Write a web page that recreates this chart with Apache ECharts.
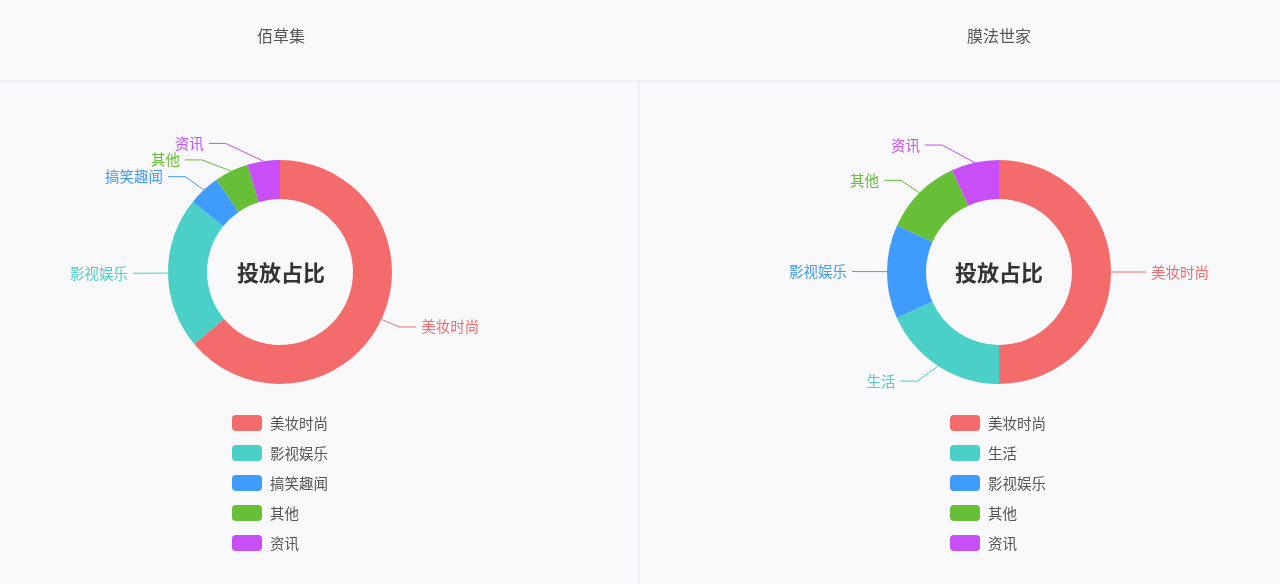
<!DOCTYPE html>
<html>
<head>
<meta charset="utf-8">
<script src="https://cdn.jsdelivr.net/npm/echarts@6/dist/echarts.min.js"></script>
<style>
html,body{margin:0;padding:0;background:#f9f8fb;}
#main{width:1280px;height:584px;}
</style>
</head>
<body>
<div id="main"></div>
<script>
const leftTitle = '佰草集';
const rightTitle = '膜法世家';
const centerText = '投放占比';
const leftCategories = ['美妆时尚', '影视娱乐', '搞笑趣闻', '其他', '资讯'];
const leftValues = [63.9, 21.9, 4.6, 4.9, 4.7];
const rightCategories = ['美妆时尚', '生活', '影视娱乐', '其他', '资讯'];
const rightValues = [50, 18.3, 13.5, 11.3, 6.9];
const leftColors = ['#f36b6b', '#4ad0c6', '#3f9cfd', '#66bf36', '#c84ff5'];
const rightColors = ['#f36b6b', '#4ad0c6', '#3f9cfd', '#66bf36', '#c84ff5'];

const fontFamily = '"Noto Sans CJK SC", "Noto Sans", sans-serif';
const chart = echarts.init(document.getElementById('main'));

const R_IN = 73, R_OUT = 112, LEN = 18, LEN2 = 17, CY = 272;

function makeData(cats, vals, colors) {
  return cats.map((c, i) => ({ name: c, value: vals[i], itemStyle: { color: colors[i] } }));
}

// place label ends on a circle (classic ECharts 4 style) using the library's own label y
function circleLabelLayout(cx, cy) {
  const R = R_OUT + LEN + LEN2;
  return function (params) {
    const pts = params.labelLinePoints;
    if (!pts || pts.length < 3) return {};
    const rect = params.labelRect;
    const yc = rect.y + rect.height / 2;
    const dy = Math.abs(yc - cy);
    const dir = pts[2][0] < cx ? -1 : 1;
    const dx = dy < R_OUT + LEN ? Math.sqrt(R * R - dy * dy) : Math.abs(pts[2][0] - cx);
    const xEnd = cx + dir * dx;
    return {
      x: xEnd + dir * 5,
      y: yc,
      align: dir < 0 ? 'right' : 'left',
      verticalAlign: 'middle',
      labelLinePoints: [pts[0], [xEnd - dir * LEN2, yc], [xEnd, yc]]
    };
  };
}

function pieSeries(cats, vals, colors, cx) {
  return {
    type: 'pie',
    center: [cx, CY],
    radius: [R_IN, R_OUT],
    startAngle: 90,
    clockwise: true,
    avoidLabelOverlap: true,
    label: { show: true, position: 'outside', fontSize: 14.5, color: 'inherit', fontFamily: fontFamily },
    labelLine: { show: true, length: LEN, length2: LEN2, lineStyle: { width: 1 } },
    labelLayout: circleLabelLayout(cx, CY),
    emphasis: { disabled: true },
    data: makeData(cats, vals, colors)
  };
}

function legendFor(cats, colors, left) {
  return {
    data: cats.map((c, i) => ({ name: c, itemStyle: { color: colors[i] } })),
    orient: 'vertical',
    left: left,
    top: 410,
    itemWidth: 30,
    itemHeight: 16,
    itemGap: 14,
    icon: 'roundRect',
    textStyle: { fontSize: 14.5, color: '#555', fontFamily: fontFamily, padding: [0, 0, 0, 3] }
  };
}

const option = {
  backgroundColor: '#f9f8fb',
  animation: false,
  title: [
    { text: leftTitle, left: 276, top: 31, textAlign: 'center', textVerticalAlign: 'middle',
      textStyle: { fontSize: 16, fontWeight: 'normal', color: '#555', fontFamily: fontFamily } },
    { text: rightTitle, left: 994, top: 31, textAlign: 'center', textVerticalAlign: 'middle',
      textStyle: { fontSize: 16, fontWeight: 'normal', color: '#555', fontFamily: fontFamily } },
    { text: centerText, left: 276, top: 268, textAlign: 'center', textVerticalAlign: 'middle',
      textStyle: { fontSize: 22, fontWeight: 'bold', color: '#333', fontFamily: fontFamily } },
    { text: centerText, left: 994, top: 268, textAlign: 'center', textVerticalAlign: 'middle',
      textStyle: { fontSize: 22, fontWeight: 'bold', color: '#333', fontFamily: fontFamily } }
  ],
  graphic: [
    { type: 'rect', shape: { x: 0, y: 80, width: 1280, height: 1.5 }, style: { fill: '#eeedf2' }, silent: true },
    { type: 'rect', shape: { x: 638, y: 81, width: 1.5, height: 503 }, style: { fill: '#eeedf2' }, silent: true }
  ],
  legend: [legendFor(leftCategories, leftColors, 227), legendFor(rightCategories, rightColors, 945)],
  series: [
    pieSeries(leftCategories, leftValues, leftColors, 280),
    pieSeries(rightCategories, rightValues, rightColors, 999)
  ]
};
chart.setOption(option);
</script>
</body>
</html>
